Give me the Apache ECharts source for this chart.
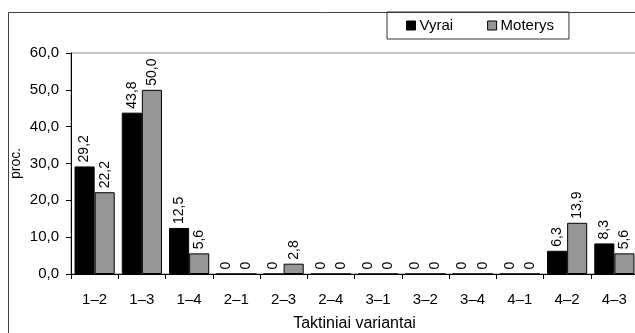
<!DOCTYPE html>
<html>
<head>
<meta charset="utf-8">
<script src="https://cdn.jsdelivr.net/npm/echarts@6/dist/echarts.min.js"></script>
<style>
  html, body { margin: 0; padding: 0; background: #fff; }
  #chart { width: 635px; height: 333px; }
</style>
</head>
<body>
<div id="chart"></div>
<script>
// Tactical variants and the share (%) of men and women choosing each
const categories = ['1–2', '1–3', '1–4', '2–1', '2–3', '2–4', '3–1', '3–2', '3–4', '4–1', '4–2', '4–3'];
const vyrai   = [29.2, 43.8, 12.5, 0, 0, 0, 0, 0, 0, 0, 6.3, 8.3];
const moterys = [22.2, 50.0, 5.6, 0, 2.8, 0, 0, 0, 0, 0, 13.9, 5.6];
const yTicks  = [0, 10, 20, 30, 40, 50, 60];

const FONT = '"Liberation Sans", Arial, sans-serif';
const fmt = v => (v === 0 ? '0' : v.toFixed(1).replace('.', ','));

const valueLabel = {
  show: true,
  position: 'top',
  rotate: 90,
  align: 'left',
  verticalAlign: 'middle',
  distance: 4,
  fontFamily: FONT,
  fontSize: 14,
  color: '#000',
  formatter: p => fmt(p.value)
};

const chart = echarts.init(document.getElementById('chart'), null, { renderer: 'canvas' });
chart.setOption({
  animation: false,
  backgroundColor: '#fff',
  textStyle: { fontFamily: FONT },
  graphic: [{
    type: 'rect',
    left: 6, top: 10,
    shape: { width: 660, height: 360 },
    style: { fill: 'none', stroke: '#404040', lineWidth: 1 },
    silent: true
  }],
  legend: {
    left: 387, top: 12,
    padding: [6, 15, 6, 19],
    borderColor: '#333',
    borderWidth: 1,
    itemWidth: 9, itemHeight: 9,
    itemGap: 34,
    textStyle: { fontFamily: FONT, fontSize: 15, color: '#000', padding: [0, 0, 0, -1] },
    data: [
      { name: 'Vyrai', icon: 'rect', itemStyle: { color: '#000', borderColor: '#000', borderWidth: 1 } },
      { name: 'Moterys', icon: 'rect', itemStyle: { color: '#969696', borderColor: '#000', borderWidth: 1 } }
    ]
  },
  grid: {
    left: 71, top: 53, width: 567, height: 221,
    outerBoundsMode: 'none',
    containLabel: false,
    show: true, borderColor: '#8c8c8c', borderWidth: 1, backgroundColor: 'transparent'
  },
  xAxis: {
    type: 'category',
    data: categories,
    name: 'Taktiniai variantai',
    nameLocation: 'middle',
    nameGap: 42,
    nameMoveOverlap: false,
    nameTextStyle: { fontFamily: FONT, fontSize: 16, color: '#000' },
    axisLine: { lineStyle: { color: '#000', width: 1 } },
    axisTick: { show: true, length: 5, lineStyle: { color: '#000' } },
    axisLabel: { margin: 18, fontFamily: FONT, fontSize: 15, color: '#000' },
    splitLine: { show: false }
  },
  yAxis: {
    type: 'value',
    min: yTicks[0],
    max: yTicks[yTicks.length - 1],
    interval: 10,
    name: 'proc.',
    nameLocation: 'middle',
    nameGap: 48,
    nameMoveOverlap: false,
    nameTextStyle: { fontFamily: FONT, fontSize: 14, color: '#000' },
    axisLine: { show: true, lineStyle: { color: '#000', width: 1 } },
    axisTick: { show: true, length: 5, lineStyle: { color: '#000' } },
    axisLabel: { margin: 12, fontFamily: FONT, fontSize: 15, color: '#000', formatter: v => v.toFixed(1).replace('.', ',') },
    splitLine: { show: false }
  },
  series: [
    {
      name: 'Vyrai', type: 'bar', data: vyrai,
      barGap: '0%', barCategoryGap: '15%',
      itemStyle: { color: '#000', borderColor: '#000', borderWidth: 1 },
      label: valueLabel
    },
    {
      name: 'Moterys', type: 'bar', data: moterys,
      barGap: '0%', barCategoryGap: '15%',
      itemStyle: { color: '#969696', borderColor: '#000', borderWidth: 1 },
      label: valueLabel
    }
  ]
});
</script>
</body>
</html>
